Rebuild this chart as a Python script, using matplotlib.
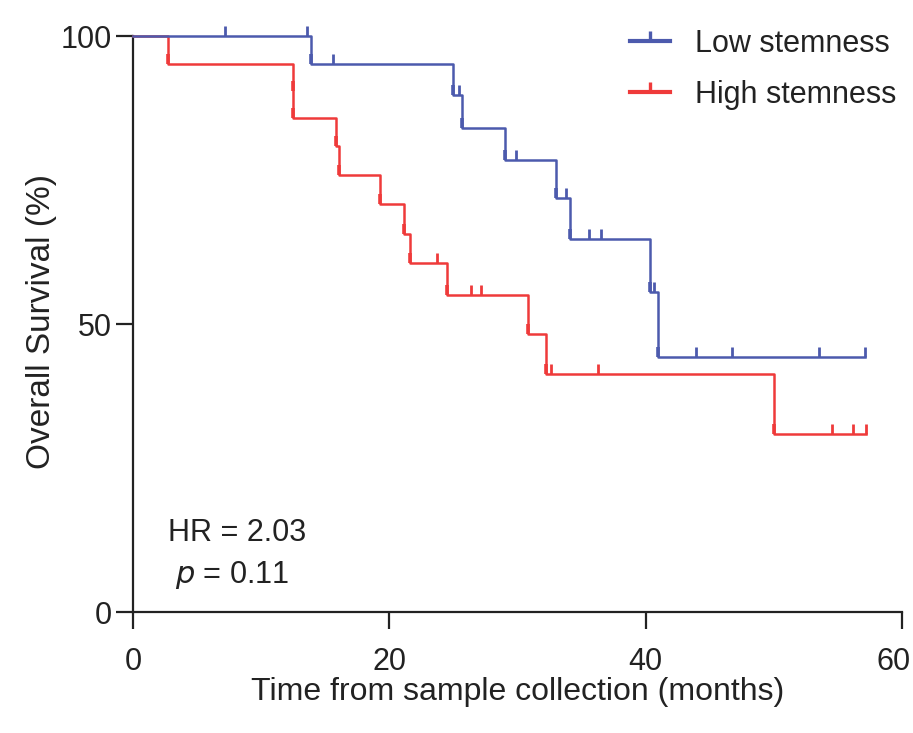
import numpy as np
import matplotlib
matplotlib.use("Agg")
import matplotlib.pyplot as plt
from matplotlib.path import Path
from matplotlib.lines import Line2D
from matplotlib.legend_handler import HandlerTuple
from matplotlib.transforms import ScaledTranslation

plt.rcParams['font.family'] = ['Liberation Sans', 'DejaVu Sans']

# Low stemness: drop times (months), survival after each drop (%), censored times
low_drop_t = [13.9, 24.99, 25.65, 29.0, 33.0, 34.1, 40.3, 41.0]
low_drop_s = [95.1, 89.8, 84.1, 78.5, 71.9, 64.8, 55.5, 44.3]
low_cens_t = [7.2, 13.6, 15.6, 25.45, 29.9, 33.75, 35.6, 36.5, 40.65, 43.9, 46.7, 53.5, 57.1]

# High stemness
high_drop_t = [2.75, 12.45, 12.52, 15.84, 16.1, 19.3, 21.17, 21.6, 24.5, 30.85, 32.2, 50.0]
high_drop_s = [95.2, 90.5, 85.7, 80.9, 75.9, 70.8, 65.7, 60.6, 55.0, 48.3, 41.3, 30.9]
high_cens_t = [23.7, 26.4, 27.15, 32.6, 36.3, 54.5, 56.2, 57.2]

labels = ["Low stemness", "High stemness"]
colors = ["#4c5aad", "#ef3a3a"]

hr_text = "HR = 2.03"
p_text = "$\\mathit{p}$ = 0.11"

ink = '#222222'
fs = 22

# upward tick used for censored cases
tick = Path([(0, 0), (0, 1)])


def surv_at(t, drop_t, drop_s):
    i = np.searchsorted(drop_t, t, side='right')
    return 100.0 if i == 0 else drop_s[i - 1]


fig = plt.figure(figsize=(9.13, 7.33), dpi=100)
ax = fig.add_axes([133 / 913, 1 - 612 / 733, 769 / 913, 576 / 733])

groups = [(high_drop_t, high_drop_s, high_cens_t, colors[1]),
          (low_drop_t, low_drop_s, low_cens_t, colors[0])]
for drop_t, drop_s, cens_t, c in groups:
    end = max(cens_t[-1], drop_t[-1])
    xs = [0] + list(drop_t) + [end]
    ys = [100] + list(drop_s) + [drop_s[-1]]
    ax.step(xs, ys, where='post', color=c, lw=1.8, clip_on=False, zorder=3)
    cy = [surv_at(t, drop_t, drop_s) for t in cens_t]
    ax.plot(cens_t, cy, ls='none', marker=tick, ms=15, mew=2.0, color=c,
            clip_on=False, zorder=3)
    # short marks at the bottom of each drop, as in the original rendering
    ax.plot(drop_t, drop_s, ls='none', marker=tick, ms=15, mew=2.6, color=c,
            clip_on=False, zorder=3)

ax.set_xlim(0, 60)
ax.set_ylim(0, 100)
ax.set_xticks([0, 20, 40, 60])
ax.set_yticks([0, 50, 100])
for s in ['top', 'right']:
    ax.spines[s].set_visible(False)
for s in ['left', 'bottom']:
    ax.spines[s].set_linewidth(1.6)
    ax.spines[s].set_color(ink)
ax.tick_params(axis='both', length=12, width=1.6, color=ink,
               labelsize=fs, labelcolor=ink)
ax.tick_params(axis='x', pad=13)
ax.tick_params(axis='y', pad=3)
# last x label sits a bit left, like in the original
lab60 = ax.get_xticklabels()[-1]
lab60.set_transform(lab60.get_transform() + ScaledTranslation(-0.08, 0, fig.dpi_scale_trans))

ax.set_xlabel("Time from sample collection (months)", fontsize=23, color=ink)
ax.set_ylabel("Overall Survival (%)", fontsize=24, color=ink)
ax.xaxis.set_label_coords(0.5, -0.112)
ax.yaxis.set_label_coords(-0.099, 0.505)

ax.text(2.73, 13.7, hr_text, fontsize=fs, color=ink, va='center', ha='left')
ax.text(3.3, 6.4, p_text, fontsize=fs, color=ink, va='center', ha='left')

handles = []
for c in colors:
    ln = Line2D([], [], color=c, lw=3)
    mk = Line2D([], [], color=c, ls='none', marker=tick, ms=14, mew=2.4)
    handles.append((ln, mk))
ax.legend(handles, labels, handler_map={tuple: HandlerTuple(ndivide=1)},
          loc='upper left', bbox_to_anchor=(0.630, 1.034), borderaxespad=0,
          frameon=False, fontsize=fs, handlelength=1.31, handletextpad=0.82,
          labelspacing=0.7, labelcolor=ink)

fig.savefig("out.png", dpi=100)
